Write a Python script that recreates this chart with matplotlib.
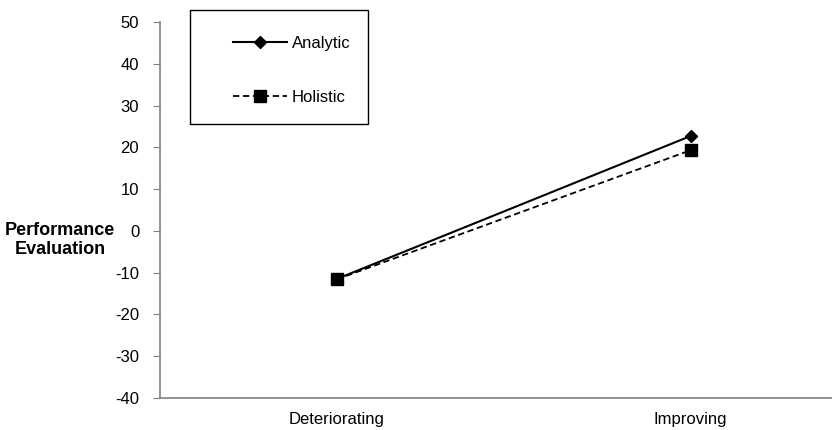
import numpy as np
import matplotlib.pyplot as plt
import matplotlib.patches as mpatches

plt.rcParams['font.family'] = ['Liberation Sans', 'DejaVu Sans']

categories = ['Deteriorating', 'Improving']
analytic = [-11.5, 22.7]
holistic = [-11.6, 19.3]
yticks = [-40, -30, -20, -10, 0, 10, 20, 30, 40, 50]

fig = plt.figure(figsize=(8.32, 4.30), dpi=100)
ax = fig.add_axes([160/832, 1 - 398/430, 1 - 160/832, (398 - 22)/430])

x = np.arange(len(categories))
ax.plot(x, analytic, color='black', lw=1.5, marker='D', ms=6, label='Analytic')
ax.plot(x, holistic, color='black', lw=1.3, ls=(0, (3.5, 2)), marker='s', ms=8, label='Holistic')

ax.set_xlim(-0.5, 1.4)
ax.set_ylim(-40, 50)
ax.set_yticks(yticks)
ax.set_yticklabels([str(v) for v in yticks], fontsize=12)
ax.set_xticks(x)
ax.set_xticklabels(categories, fontsize=12)
ax.tick_params(axis='x', length=0, pad=10)
ax.tick_params(axis='y', length=5, color='#808080', pad=10, direction='out')

for s in ['top', 'right']:
    ax.spines[s].set_visible(False)
for s in ['left', 'bottom']:
    ax.spines[s].set_color('#808080')
    ax.spines[s].set_linewidth(1.2)

fig.text(60/832, 1 - 240/430, 'Performance\nEvaluation', ha='center', va='center',
         fontsize=13, fontweight='bold', linespacing=1.1)

# legend box
rect = mpatches.Rectangle((190/832, 1 - 124/430), 178/832, 114/430,
                          transform=fig.transFigure, fill=False, edgecolor='black', lw=1)
fig.patches.append(rect)
leg = fig.legend(loc='upper left', bbox_to_anchor=(225/832, 1 - 28/430),
                 frameon=False, fontsize=12, handlelength=3.2, handletextpad=0.3,
                 labelspacing=2.3, borderpad=0)

fig.savefig('out.png', dpi=100)
